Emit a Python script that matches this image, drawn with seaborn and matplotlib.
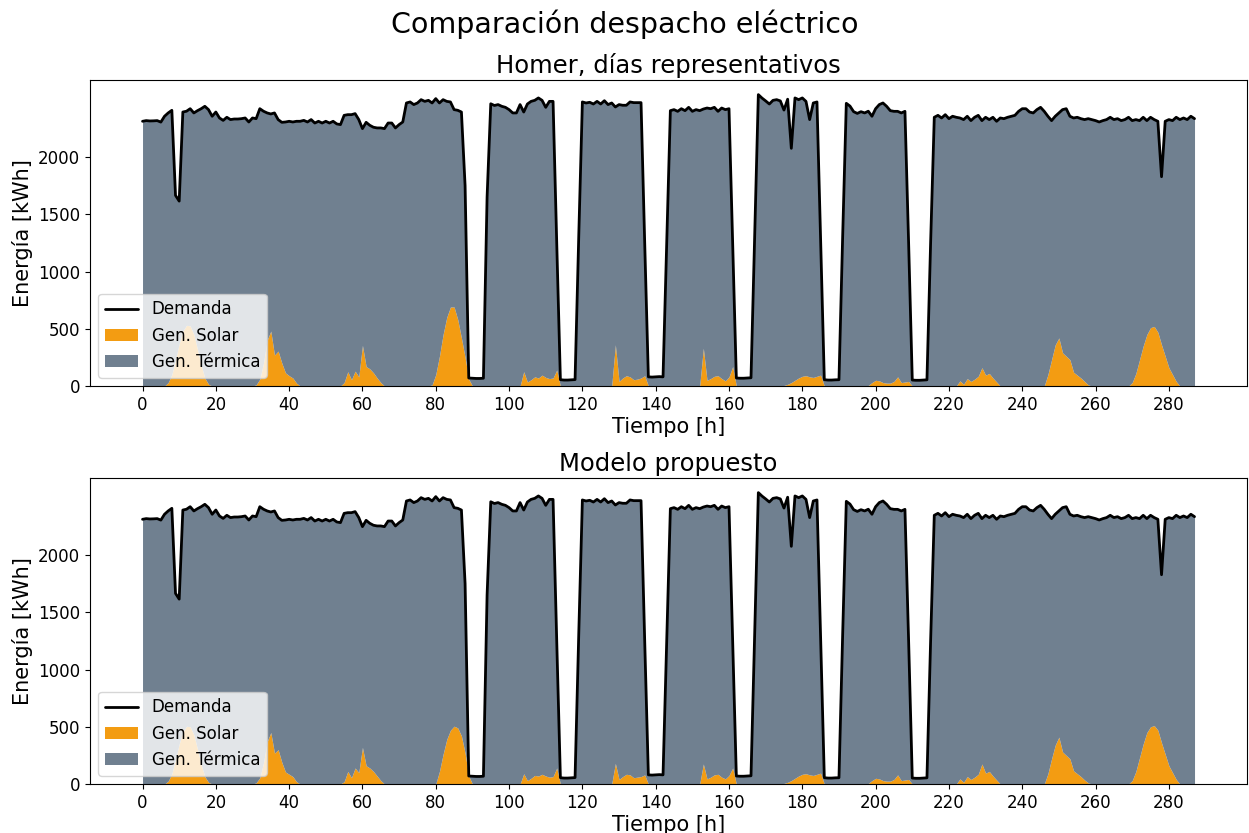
import numpy as np
import pandas as pd
import matplotlib
matplotlib.use("Agg")
import matplotlib.pyplot as plt
import seaborn as sns

# Hourly demand [kWh], one row per representative day (24 h each)
demanda = [
    2312, 2318, 2315, 2316, 2318, 2305, 2356, 2385, 2408, 1665, 1615, 2393, 2400, 2422, 2385, 2405, 2422, 2443, 2414, 2356, 2393, 2341, 2320, 2347,
    2327, 2332, 2332, 2335, 2341, 2306, 2341, 2335, 2422, 2400, 2385, 2376, 2385, 2327, 2303, 2306, 2312, 2306, 2312, 2312, 2320, 2306, 2327, 2297,
    2312, 2297, 2312, 2297, 2312, 2289, 2283, 2364, 2370, 2370, 2379, 2327, 2248, 2303, 2277, 2260, 2254, 2254, 2248, 2297, 2297, 2254, 2283, 2306,
    2472, 2481, 2458, 2472, 2501, 2486, 2495, 2472, 2510, 2472, 2501, 2486, 2481, 2414, 2408, 2393, 1750, 70, 68, 66, 66, 68, 1650, 2465,
    2450, 2458, 2443, 2434, 2414, 2385, 2385, 2458, 2393, 2463, 2486, 2495, 2516, 2495, 2434, 2486, 2486, 1250, 55, 52, 52, 54, 56, 1300,
    2481, 2472, 2478, 2463, 2486, 2463, 2492, 2458, 2472, 2437, 2458, 2452, 2452, 2481, 2475, 2475, 2475, 1250, 80, 78, 80, 82, 80, 1250,
    2405, 2414, 2399, 2422, 2405, 2434, 2399, 2414, 2405, 2419, 2428, 2422, 2434, 2399, 2428, 2414, 2422, 1250, 70, 68, 68, 70, 72, 1300,
    2545, 2515, 2490, 2463, 2495, 2501, 2490, 2410, 2505, 2076, 2516, 2501, 2516, 2486, 2327, 2472, 2481, 1250, 55, 52, 52, 54, 55, 1300,
    2469, 2445, 2396, 2381, 2396, 2385, 2400, 2356, 2422, 2458, 2472, 2443, 2405, 2399, 2399, 2385, 2399, 1250, 52, 50, 50, 52, 54, 1250,
    2347, 2364, 2341, 2370, 2335, 2356, 2347, 2341, 2327, 2356, 2318, 2347, 2364, 2318, 2347, 2327, 2347, 2312, 2341, 2335, 2347, 2356, 2364, 2399,
    2422, 2422, 2393, 2385, 2414, 2434, 2399, 2356, 2318, 2356, 2385, 2414, 2422, 2356, 2341, 2347, 2335, 2327, 2335, 2327, 2318, 2306, 2318, 2327,
    2347, 2327, 2335, 2318, 2327, 2347, 2318, 2327, 2318, 2347, 2318, 2347, 2327, 2312, 1828, 2312, 2327, 2318, 2347, 2327, 2341, 2327, 2356, 2335,
]

# Solar generation [kWh], Homer dispatch
solar_homer = [
    0, 0, 0, 0, 0, 0, 0, 30, 100, 230, 370, 480, 530, 525, 450, 320, 180, 70, 15, 0, 0, 0, 0, 0,
    0, 0, 0, 0, 0, 0, 0, 10, 60, 200, 400, 480, 270, 305, 200, 115, 90, 70, 25, 0, 0, 0, 0, 0,
    0, 0, 0, 0, 0, 0, 0, 30, 125, 55, 130, 80, 355, 170, 150, 115, 70, 30, 0, 0, 0, 0, 0, 0,
    0, 0, 0, 0, 0, 0, 0, 10, 100, 260, 450, 600, 690, 690, 580, 420, 250, 60, 0, 0, 0, 0, 0, 0,
    0, 0, 0, 0, 0, 0, 0, 0, 125, 35, 55, 80, 70, 95, 75, 65, 70, 140, 0, 0, 0, 0, 0, 0,
    0, 0, 0, 0, 0, 0, 0, 0, 0, 360, 40, 70, 90, 80, 55, 60, 70, 90, 0, 0, 0, 0, 0, 0,
    0, 0, 0, 0, 0, 0, 0, 0, 0, 330, 50, 65, 85, 90, 65, 45, 80, 170, 0, 0, 0, 0, 0, 0,
    0, 0, 0, 0, 0, 0, 0, 5, 15, 30, 50, 70, 85, 90, 80, 75, 85, 95, 0, 0, 0, 0, 0, 0,
    0, 0, 0, 0, 0, 0, 5, 30, 50, 45, 30, 25, 25, 40, 80, 30, 35, 40, 0, 0, 0, 0, 0, 0,
    0, 0, 0, 0, 0, 0, 0, 45, 15, 65, 40, 60, 85, 160, 95, 110, 70, 35, 0, 0, 0, 0, 0, 0,
    0, 0, 0, 0, 0, 0, 0, 100, 230, 360, 420, 290, 260, 230, 120, 95, 70, 40, 10, 0, 0, 0, 0, 0,
    0, 0, 0, 0, 0, 0, 30, 110, 230, 350, 450, 510, 520, 470, 360, 260, 160, 100, 40, 0, 0, 0, 0, 0,
]

# Solar generation [kWh], proposed model dispatch
solar_modelo = [
    0, 0, 0, 0, 0, 0, 0, 25, 90, 215, 350, 455, 505, 500, 430, 305, 170, 65, 15, 0, 0, 0, 0, 0,
    0, 0, 0, 0, 0, 0, 0, 10, 55, 185, 370, 450, 270, 300, 190, 105, 85, 65, 20, 0, 0, 0, 0, 0,
    0, 0, 0, 0, 0, 0, 0, 20, 110, 55, 140, 100, 320, 160, 140, 110, 70, 30, 0, 0, 0, 0, 0, 0,
    0, 0, 0, 0, 0, 0, 0, 0, 0, 110, 260, 390, 470, 505, 490, 420, 270, 70, 0, 0, 0, 0, 0, 0,
    0, 0, 0, 0, 0, 0, 0, 0, 90, 30, 50, 75, 70, 85, 70, 60, 65, 140, 0, 0, 0, 0, 0, 0,
    0, 0, 0, 0, 0, 0, 0, 0, 0, 180, 40, 65, 85, 80, 55, 60, 65, 80, 0, 0, 0, 0, 0, 0,
    0, 0, 0, 0, 0, 0, 0, 0, 0, 175, 45, 60, 80, 85, 60, 45, 75, 140, 0, 0, 0, 0, 0, 0,
    0, 0, 0, 0, 0, 0, 0, 5, 15, 30, 50, 70, 85, 90, 80, 75, 85, 95, 0, 0, 0, 0, 0, 0,
    0, 0, 0, 0, 0, 0, 5, 30, 50, 45, 30, 25, 25, 40, 80, 30, 35, 40, 0, 0, 0, 0, 0, 0,
    0, 0, 0, 0, 0, 0, 0, 45, 15, 65, 40, 60, 85, 175, 95, 110, 70, 35, 0, 0, 0, 0, 0, 0,
    0, 0, 0, 0, 0, 0, 0, 90, 220, 340, 410, 280, 250, 220, 115, 90, 65, 35, 10, 0, 0, 0, 0, 0,
    0, 0, 0, 0, 0, 0, 30, 110, 230, 350, 450, 500, 510, 470, 360, 260, 160, 100, 40, 0, 0, 0, 0, 0,
]

titulos = ["Homer, días representativos", "Modelo propuesto"]
x_ticks = list(range(0, 281, 20))
y_ticks = [0, 500, 1000, 1500, 2000]

sns.set_style("ticks", {
    "axes.edgecolor": "black",
    "text.color": "black",
    "axes.labelcolor": "black",
    "xtick.color": "black",
    "ytick.color": "black",
})
plt.rcParams["font.family"] = ["DejaVu Sans"]

COLOR_SOLAR = "#f39c12"
COLOR_TERMICA = "slategray"

horas = np.arange(len(demanda))
dem = np.array(demanda, dtype=float)

fig = plt.figure(figsize=(12.49, 8.33), dpi=100)
ax_top = fig.add_axes([0.072, 0.5366, 0.9265, 0.3673])
ax_bot = fig.add_axes([0.072, 0.0588, 0.9265, 0.3673])

for ax, solar, titulo in zip([ax_top, ax_bot], [solar_homer, solar_modelo], titulos):
    sol = np.array(solar, dtype=float)
    termica = np.clip(dem - sol, 0, None)
    df = pd.DataFrame({"Tiempo": horas, "Demanda": dem})
    sns.lineplot(data=df, x="Tiempo", y="Demanda", color="black", linewidth=2,
                 ax=ax, label="Demanda", zorder=3)
    ax.stackplot(horas, sol, termica, colors=[COLOR_SOLAR, COLOR_TERMICA],
                 labels=["Gen. Solar", "Gen. Térmica"], linewidth=0)
    ax.set_xlim(-0.05 * horas[-1], horas[-1] * 1.05)
    ax.set_ylim(0, dem.max() * 1.05)
    ax.set_xticks(x_ticks)
    ax.set_yticks(y_ticks)
    ax.tick_params(labelsize=12)
    ax.set_xlabel("Tiempo [h]", fontsize=15, labelpad=2)
    ax.set_ylabel("Energía [kWh]", fontsize=15)
    ax.set_title(titulo, fontsize=17.5, pad=5)
    ax.legend(loc="lower left", fontsize=12)

fig.suptitle("Comparación despacho eléctrico", fontsize=20.5, y=0.988, va="top")
fig.savefig("out.png", dpi=100)
